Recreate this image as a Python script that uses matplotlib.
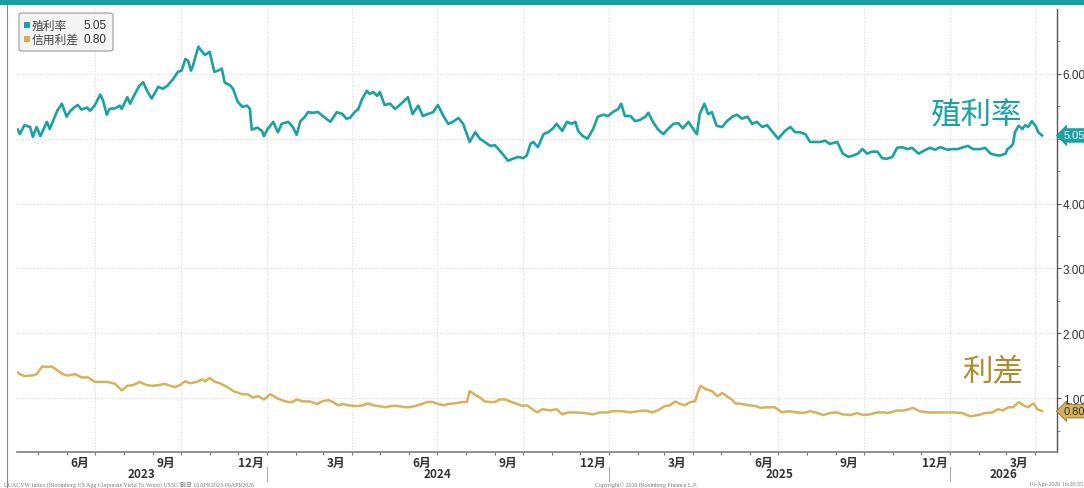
import matplotlib
matplotlib.use("Agg")
import matplotlib.pyplot as plt
from matplotlib.patches import FancyBboxPatch, Rectangle
from matplotlib.lines import Line2D
import pandas as pd

plt.rcParams['font.family'] = ['Noto Sans CJK TC', 'DejaVu Sans']

# ---- data ----
yield_dates = [
    "2023-04-10", "2023-04-12", "2023-04-17", "2023-04-23", "2023-04-26", "2023-04-30", "2023-05-04",
    "2023-05-11", "2023-05-14", "2023-05-22", "2023-05-27", "2023-06-01", "2023-06-05", "2023-06-10",
    "2023-06-13", "2023-06-17", "2023-06-23", "2023-06-26", "2023-07-01", "2023-07-07", "2023-07-10",
    "2023-07-14", "2023-07-17", "2023-07-23", "2023-07-28", "2023-07-30", "2023-08-05", "2023-08-08",
    "2023-08-13", "2023-08-18", "2023-08-22", "2023-08-26", "2023-08-31", "2023-09-04", "2023-09-07",
    "2023-09-12", "2023-09-17", "2023-09-23", "2023-09-28", "2023-10-02", "2023-10-06", "2023-10-09",
    "2023-10-12", "2023-10-14", "2023-10-20", "2023-10-24", "2023-10-27", "2023-11-01", "2023-11-06",
    "2023-11-10", "2023-11-14", "2023-11-17", "2023-11-23", "2023-11-26", "2023-12-01", "2023-12-06",
    "2023-12-11", "2023-12-14", "2023-12-16", "2023-12-22", "2023-12-27", "2023-12-29", "2024-01-02",
    "2024-01-08", "2024-01-13", "2024-01-17", "2024-01-24", "2024-01-29", "2024-02-02", "2024-02-06",
    "2024-02-11", "2024-02-14", "2024-02-19", "2024-02-25", "2024-03-01", "2024-03-09", "2024-03-16",
    "2024-03-22", "2024-03-26", "2024-03-30", "2024-04-04", "2024-04-08", "2024-04-12", "2024-04-17",
    "2024-04-20", "2024-04-24", "2024-04-28", "2024-05-01", "2024-05-06", "2024-05-12", "2024-05-17",
    "2024-05-20", "2024-05-26", "2024-05-31", "2024-06-05", "2024-06-11", "2024-06-16", "2024-06-21",
    "2024-06-27", "2024-07-02", "2024-07-08", "2024-07-13", "2024-07-18", "2024-07-24", "2024-07-29",
    "2024-08-05", "2024-08-11", "2024-08-16", "2024-08-21", "2024-08-27", "2024-09-01", "2024-09-09",
    "2024-09-15", "2024-09-20", "2024-09-26", "2024-10-01", "2024-10-05", "2024-10-09", "2024-10-12",
    "2024-10-17", "2024-10-23", "2024-10-28", "2024-11-02", "2024-11-06", "2024-11-12", "2024-11-17",
    "2024-11-22", "2024-11-26", "2024-11-29", "2024-12-04", "2024-12-09", "2024-12-15", "2024-12-20",
    "2024-12-26", "2024-12-31", "2025-01-05", "2025-01-11", "2025-01-14", "2025-01-18", "2025-01-24",
    "2025-01-29", "2025-02-03", "2025-02-09", "2025-02-12", "2025-02-17", "2025-02-22", "2025-02-28",
    "2025-03-05", "2025-03-11", "2025-03-16", "2025-03-21", "2025-03-27", "2025-04-01", "2025-04-05",
    "2025-04-08", "2025-04-13", "2025-04-17", "2025-04-21", "2025-04-26", "2025-05-02", "2025-05-07",
    "2025-05-13", "2025-05-18", "2025-05-23", "2025-05-29", "2025-06-03", "2025-06-08", "2025-06-14",
    "2025-06-19", "2025-06-24", "2025-07-01", "2025-07-08", "2025-07-14", "2025-07-19", "2025-07-24",
    "2025-07-30", "2025-08-04", "2025-08-09", "2025-08-15", "2025-08-20", "2025-08-25", "2025-09-02",
    "2025-09-08", "2025-09-14", "2025-09-19", "2025-09-24", "2025-09-29", "2025-10-04", "2025-10-09",
    "2025-10-15", "2025-10-20", "2025-10-25", "2025-10-31", "2025-11-05", "2025-11-10", "2025-11-16",
    "2025-11-21", "2025-11-28", "2025-12-03", "2025-12-10", "2025-12-16", "2025-12-21", "2025-12-29",
    "2026-01-03", "2026-01-09", "2026-01-15", "2026-01-20", "2026-01-25", "2026-02-02", "2026-02-07",
    "2026-02-13", "2026-02-18", "2026-02-23", "2026-03-01", "2026-03-03", "2026-03-06", "2026-03-09",
    "2026-03-11", "2026-03-15", "2026-03-19", "2026-03-22", "2026-03-25", "2026-03-29", "2026-04-02",
    "2026-04-05", "2026-04-09",
]
yield_values = [
    5.14, 5.07, 5.21, 5.18, 5.03, 5.18, 5.04,
    5.26, 5.15, 5.43, 5.54, 5.34, 5.43, 5.49,
    5.52, 5.45, 5.48, 5.43, 5.51, 5.68, 5.59,
    5.37, 5.46, 5.47, 5.51, 5.46, 5.64, 5.54,
    5.69, 5.82, 5.87, 5.74, 5.62, 5.72, 5.80,
    5.77, 5.82, 5.92, 6.03, 6.05, 6.23, 6.20,
    6.05, 6.12, 6.42, 6.34, 6.29, 6.34, 6.03,
    6.05, 6.08, 5.87, 5.82, 5.77, 5.57, 5.49,
    5.51, 5.46, 5.14, 5.17, 5.12, 5.04, 5.15,
    5.26, 5.10, 5.23, 5.26, 5.18, 5.06, 5.27,
    5.34, 5.41, 5.40, 5.41, 5.35, 5.26, 5.41,
    5.38, 5.31, 5.32, 5.41, 5.46, 5.61, 5.74,
    5.69, 5.72, 5.66, 5.72, 5.52, 5.54, 5.46,
    5.49, 5.57, 5.64, 5.38, 5.51, 5.35, 5.38,
    5.41, 5.52, 5.35, 5.23, 5.26, 5.32, 5.23,
    4.95, 5.10, 5.00, 4.95, 4.89, 4.90, 4.77,
    4.66, 4.69, 4.72, 4.70, 4.74, 4.92, 4.95,
    4.87, 5.07, 5.10, 5.16, 5.23, 5.12, 5.26,
    5.23, 5.26, 5.12, 5.04, 5.00, 5.15, 5.34,
    5.37, 5.35, 5.41, 5.46, 5.54, 5.35, 5.35,
    5.27, 5.29, 5.34, 5.40, 5.26, 5.15, 5.07,
    5.15, 5.23, 5.24, 5.16, 5.26, 5.15, 5.07,
    5.38, 5.54, 5.38, 5.41, 5.20, 5.18, 5.27,
    5.34, 5.37, 5.31, 5.34, 5.23, 5.26, 5.18,
    5.21, 5.12, 5.00, 5.12, 5.18, 5.10, 5.10,
    5.07, 4.95, 4.95, 4.95, 4.97, 4.92, 4.95,
    4.77, 4.72, 4.74, 4.77, 4.84, 4.77, 4.80,
    4.80, 4.70, 4.69, 4.72, 4.86, 4.87, 4.84,
    4.86, 4.77, 4.81, 4.86, 4.83, 4.87, 4.83,
    4.84, 4.84, 4.87, 4.89, 4.84, 4.84, 4.86,
    4.77, 4.75, 4.74, 4.77, 4.84, 4.87, 4.92,
    5.10, 5.20, 5.15, 5.21, 5.18, 5.27, 5.20,
    5.10, 5.05,
]

spread_dates = [
    "2023-04-10", "2023-04-12", "2023-04-17", "2023-04-25", "2023-04-30", "2023-05-06", "2023-05-11",
    "2023-05-16", "2023-05-22", "2023-05-28", "2023-06-02", "2023-06-10", "2023-06-17", "2023-06-24",
    "2023-07-01", "2023-07-09", "2023-07-15", "2023-07-23", "2023-07-30", "2023-08-05", "2023-08-11",
    "2023-08-18", "2023-08-26", "2023-09-01", "2023-09-07", "2023-09-14", "2023-09-20", "2023-09-25",
    "2023-09-30", "2023-10-06", "2023-10-11", "2023-10-18", "2023-10-24", "2023-10-27", "2023-11-01",
    "2023-11-07", "2023-11-12", "2023-11-20", "2023-11-26", "2023-12-06", "2023-12-12", "2023-12-17",
    "2023-12-23", "2023-12-29", "2024-01-05", "2024-01-12", "2024-01-17", "2024-01-24", "2024-01-28",
    "2024-02-02", "2024-02-09", "2024-02-16", "2024-02-24", "2024-02-29", "2024-03-07", "2024-03-12",
    "2024-03-17", "2024-03-23", "2024-03-28", "2024-04-02", "2024-04-08", "2024-04-13", "2024-04-18",
    "2024-04-24", "2024-04-29", "2024-05-07", "2024-05-14", "2024-05-20", "2024-05-28", "2024-06-02",
    "2024-06-08", "2024-06-15", "2024-06-20", "2024-06-27", "2024-07-02", "2024-07-08", "2024-07-13",
    "2024-07-20", "2024-07-28", "2024-08-02", "2024-08-05", "2024-08-11", "2024-08-16", "2024-08-21",
    "2024-08-27", "2024-09-01", "2024-09-06", "2024-09-12", "2024-09-19", "2024-09-25", "2024-09-30",
    "2024-10-05", "2024-10-11", "2024-10-16", "2024-10-22", "2024-10-30", "2024-11-06", "2024-11-12",
    "2024-11-18", "2024-11-28", "2024-12-06", "2024-12-15", "2024-12-22", "2024-12-30", "2025-01-05",
    "2025-01-15", "2025-01-24", "2025-02-01", "2025-02-09", "2025-02-16", "2025-02-22", "2025-03-02",
    "2025-03-07", "2025-03-13", "2025-03-18", "2025-03-23", "2025-03-29", "2025-04-03", "2025-04-06",
    "2025-04-09", "2025-04-14", "2025-04-21", "2025-04-27", "2025-05-02", "2025-05-07", "2025-05-13",
    "2025-05-16", "2025-05-23", "2025-05-30", "2025-06-06", "2025-06-12", "2025-06-19", "2025-06-27",
    "2025-07-05", "2025-07-12", "2025-07-21", "2025-07-28", "2025-08-04", "2025-08-12", "2025-08-18",
    "2025-08-25", "2025-09-02", "2025-09-08", "2025-09-16", "2025-09-23", "2025-09-30", "2025-10-07",
    "2025-10-15", "2025-10-21", "2025-10-26", "2025-11-05", "2025-11-13", "2025-11-22", "2025-11-29",
    "2025-12-08", "2025-12-18", "2025-12-26", "2026-01-04", "2026-01-14", "2026-01-22", "2026-01-31",
    "2026-02-07", "2026-02-15", "2026-02-21", "2026-02-26", "2026-03-04", "2026-03-09", "2026-03-15",
    "2026-03-20", "2026-03-25", "2026-03-31", "2026-04-04", "2026-04-09",
]
spread_values = [
    1.40, 1.37, 1.34, 1.35, 1.37, 1.49, 1.48,
    1.49, 1.43, 1.37, 1.35, 1.37, 1.32, 1.32,
    1.25, 1.25, 1.25, 1.22, 1.12, 1.19, 1.20,
    1.25, 1.20, 1.19, 1.20, 1.22, 1.19, 1.17,
    1.20, 1.26, 1.23, 1.25, 1.29, 1.26, 1.31,
    1.25, 1.23, 1.17, 1.11, 1.06, 1.06, 1.01,
    1.03, 0.98, 1.06, 1.00, 0.97, 0.94, 0.94,
    0.98, 0.95, 0.95, 0.91, 0.95, 0.97, 0.94,
    0.89, 0.91, 0.89, 0.88, 0.88, 0.89, 0.92,
    0.89, 0.88, 0.86, 0.88, 0.88, 0.86, 0.86,
    0.88, 0.91, 0.94, 0.94, 0.91, 0.89, 0.91,
    0.92, 0.94, 0.94, 1.11, 1.05, 1.01, 0.95,
    0.94, 0.94, 0.98, 0.98, 0.94, 0.91, 0.88,
    0.89, 0.83, 0.78, 0.83, 0.81, 0.83, 0.75,
    0.78, 0.78, 0.77, 0.75, 0.78, 0.78, 0.80,
    0.80, 0.78, 0.80, 0.81, 0.78, 0.81, 0.88,
    0.89, 0.95, 0.91, 0.89, 0.94, 0.95, 1.09,
    1.19, 1.14, 1.11, 1.03, 1.08, 1.03, 0.97,
    0.92, 0.91, 0.89, 0.88, 0.85, 0.86, 0.86,
    0.78, 0.80, 0.78, 0.77, 0.80, 0.77, 0.74,
    0.77, 0.78, 0.75, 0.74, 0.77, 0.74, 0.75,
    0.78, 0.78, 0.77, 0.81, 0.81, 0.85, 0.80,
    0.78, 0.78, 0.78, 0.78, 0.77, 0.72, 0.74,
    0.77, 0.78, 0.83, 0.81, 0.86, 0.86, 0.94,
    0.89, 0.86, 0.92, 0.83, 0.80,
]

month_label_dates = ["2023-06-15", "2023-09-15", "2023-12-15", "2024-03-15", "2024-06-15",
                     "2024-09-15", "2024-12-15", "2025-03-15", "2025-06-15", "2025-09-15",
                     "2025-12-15", "2026-03-15"]
month_labels = ["6月", "9月", "12月", "3月", "6月", "9月", "12月", "3月", "6月", "9月", "12月", "3月"]
year_labels = ["2023", "2024", "2025", "2026"]
# 5.00 is hidden behind the last-value tag on the original
y_tick_values = [1, 2, 3, 4, 6]

TEAL = "#19a1a3"
GOLD = "#d7b25a"
GOLD_TXT = "#b18b2a"
GRID = "#d9d9d9"
TXT = "#333333"
NUM_FONT = ["Liberation Sans", "DejaVu Sans"]

yd = pd.to_datetime(yield_dates)
sd = pd.to_datetime(spread_dates)
x_start = pd.Timestamp("2023-04-09")
x_end = pd.Timestamp("2026-04-25")

W, H = 1084, 489
fig = plt.figure(figsize=(W / 100, H / 100), dpi=100)
fig.patch.set_facecolor("white")

def fx(px):
    return px / W

def fy(py):
    return 1 - py / H

ax = fig.add_axes([fx(17), fy(453), fx(1057) - fx(17), fy(10) - fy(453)])
ax.set_xlim(x_start, x_end)
ax.set_ylim(0.17, 7.0)

# grid
for v in range(1, 7):
    ax.axhline(v, color=GRID, lw=0.8, ls=(0, (1, 1.5)), zorder=0)
for d in pd.date_range("2023-07-01", "2026-04-01", freq="QS"):
    ax.axvline(d, color=GRID, lw=0.8, ls=(0, (1, 1.5)), zorder=0)

ax.plot(yd, yield_values, color=TEAL, lw=1.9, solid_joinstyle="round")
ax.plot(sd, spread_values, color=GOLD, lw=1.8, solid_joinstyle="round")

# spines
for s in ["top", "left"]:
    ax.spines[s].set_visible(False)
ax.spines["bottom"].set_color("#7f7f7f")
ax.spines["right"].set_color("#555555")
ax.spines["bottom"].set_linewidth(1.2)
ax.spines["right"].set_linewidth(1.0)

# right y axis
ax.yaxis.tick_right()
ax.set_yticks(y_tick_values)
ax.set_yticklabels([f"{v:.2f}" for v in y_tick_values], fontsize=8.5, color=TXT,
                   family=NUM_FONT)
ax.set_yticks([v + 0.5 for v in range(0, 7)] + [5], minor=True)
ax.tick_params(axis="y", which="major", length=3, width=0.8, color="#555555", pad=1)
ax.tick_params(axis="y", which="minor", length=2, width=0.6, color="#777777")

# x axis: monthly ticks, custom labels
ax.set_xticks(pd.date_range("2023-05-01", "2026-04-01", freq="MS"))
ax.set_xticklabels([])
ax.tick_params(axis="x", length=2.5, width=0.8, color="#777777")

xt = ax.get_xaxis_transform()
for d, lab in zip(pd.to_datetime(month_label_dates), month_labels):
    ax.text(d, -0.024, lab, transform=xt, ha="center", va="center",
            fontsize=8.5, color=TXT, fontweight="bold")

year_starts = [x_start, pd.Timestamp("2024-01-01"), pd.Timestamp("2025-01-01"),
               pd.Timestamp("2026-01-01"), x_end]
for i, lab in enumerate(year_labels):
    mid = year_starts[i] + (year_starts[i + 1] - year_starts[i]) / 2
    ax.text(mid, -0.048, lab, transform=xt, ha="center", va="center",
            fontsize=8.5, color=TXT, fontweight="bold")
for d in year_starts[1:4]:
    ax.plot([d, d], [-0.034, -0.066], transform=xt, color="#aaaaaa", lw=0.8, clip_on=False)

# series labels inside the plot
ax.text(pd.Timestamp("2026-01-29"), 5.37, "殖利率", color=TEAL, fontsize=22,
        ha="center", va="center")
ax.text(pd.Timestamp("2026-02-15"), 1.43, "利差", color=GOLD_TXT, fontsize=22,
        ha="center", va="center")

# last value tags
tag = dict(xycoords=("axes fraction", "data"), xytext=(4.8, 0), textcoords="offset points",
           ha="left", va="center", fontsize=8, family=NUM_FONT, annotation_clip=False)
ax.annotate(f"{yield_values[-1]:.2f}", xy=(1.0, yield_values[-1]), color="white",
            bbox=dict(boxstyle="larrow,pad=0.16", fc=TEAL, ec=TEAL, lw=0.6), **tag)
ax.annotate(f"{spread_values[-1]:.2f}", xy=(1.0, spread_values[-1]), color=TXT,
            bbox=dict(boxstyle="larrow,pad=0.16", fc=GOLD, ec="#8c7030", lw=0.6), **tag)

# top teal bar and left frame line
fig.add_artist(Rectangle((0, fy(6)), 1, fy(0) - fy(6), transform=fig.transFigure,
                         fc="#1a9fa1", ec="none"))
fig.add_artist(Line2D([fx(6.5), fx(6.5)], [0, fy(6)], transform=fig.transFigure,
                      color="#888888", lw=0.8))

# legend box
fig.add_artist(FancyBboxPatch((fx(19), fy(52)), fx(113) - fx(19), fy(14) - fy(52),
                              boxstyle="round,pad=0,rounding_size=0.004",
                              transform=fig.transFigure, fc="#f4f4f4", ec="#9a9a9a", lw=0.8,
                              zorder=5))
for row_y, col, name, val in [(26, TEAL, "殖利率", yield_values[-1]),
                              (40, "#d4af4f", "信用利差", spread_values[-1])]:
    fig.add_artist(Rectangle((fx(24), fy(row_y + 3)), fx(6), fx(6) * W / H,
                             transform=fig.transFigure, fc=col, ec="none", zorder=6))
    fig.text(fx(32), fy(row_y), name, fontsize=8.5, color="#444444", va="center",
             ha="left", zorder=6)
    fig.text(fx(107), fy(row_y), f"{val:.2f}", fontsize=8.5, color="#333333", va="center",
             ha="right", zorder=6, family=NUM_FONT)

# footer
foot = dict(fontsize=4.3, color="#777777", va="center", family=["Liberation Serif", "Noto Sans CJK TC"])
fig.text(fx(4), fy(485), "LUACYW Index (Bloomberg US Agg Corporate Yield To Worst) US3G 剛日 10APR2023-09APR2026",
         ha="left", **foot)
fig.text(fx(595), fy(485), "Copyright© 2026 Bloomberg Finance L.P.", ha="left", **foot)
fig.text(fx(1083), fy(485), "10-Apr-2026 16:26:55", ha="right", **foot)

fig.savefig("out.png", dpi=100)
